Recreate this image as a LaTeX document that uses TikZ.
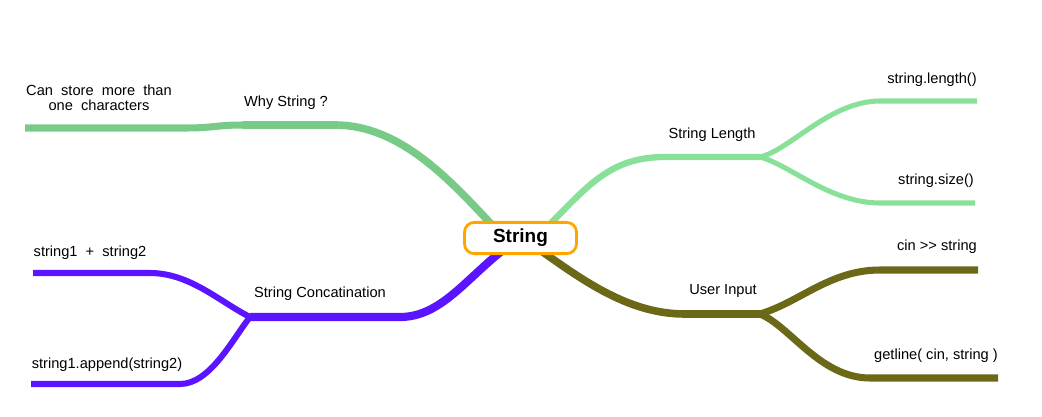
\documentclass[tikz,border=0pt]{standalone}
\usepackage{fontspec}
\setmainfont{Liberation Sans}
\usepackage{tikz}
\usetikzlibrary{positioning}
\definecolor{whygreen}{RGB}{120,203,135}
\definecolor{lengreen}{RGB}{137,224,153}
\definecolor{inolive}{RGB}{107,104,24}
\definecolor{catpurple}{RGB}{91,20,255}
\definecolor{rootorange}{RGB}{255,165,0}

\begin{document}
\begin{tikzpicture}[x=0.025cm,y=-0.025cm,
    branch/.style={line width=5.4pt},
    twig/.style={line width=4.3pt},
    lbl/.style={font=\fontsize{10.4}{11}\selectfont,inner sep=1pt},
    rootbox/.style={draw=rootorange,line width=2pt,fill=white,rounded corners=7pt,
      minimum width=2.8cm,minimum height=0.78cm,font=\fontsize{13.5}{15}\selectfont\bfseries}]
  \useasboundingbox (0,0) rectangle (1042,416);

  % Junctions and ends
  \coordinate (rWhy) at (493,226);
  \coordinate (rLen) at (548,226);
  \coordinate (rIn) at (540,250);
  \coordinate (rCat) at (503,250);
  \coordinate (why) at (243,125);
  \coordinate (whyEnd) at (25,128);
  \coordinate (len) at (760,157);
  \coordinate (lenA) at (977,101);
  \coordinate (lenB) at (975,203);
  \coordinate (in) at (760,314);
  \coordinate (inA) at (978,270);
  \coordinate (inB) at (998,378);
  \coordinate (cat) at (250,317);
  \coordinate (catA) at (33,273);
  \coordinate (catB) at (31,384);

  % Why String
  \draw[branch,whygreen] (rWhy) .. controls (450,180) and (400,125) .. (335,125) -- (why);
  \draw[twig,whygreen,line width=5pt] (why) .. controls (215,125) and (215,128) .. (185,128) -- (whyEnd);
  % String Length
  \draw[branch,lengreen,line width=4.5pt] (rLen) .. controls (588,186) and (610,157) .. (665,157) -- (len);
  \draw[twig,lengreen,line width=3.6pt] (len) .. controls (790,150) and (830,101) .. (880,101) -- (lenA);
  \draw[twig,lengreen,line width=3.6pt] (len) .. controls (790,165) and (830,203) .. (880,203) -- (lenB);
  % User Input
  \draw[branch,inolive] (rIn) .. controls (585,282) and (630,314) .. (685,314) -- (in);
  \draw[twig,inolive,line width=5pt] (in) .. controls (800,302) and (830,270) .. (880,270) -- (inA);
  \draw[twig,inolive,line width=5pt] (in) .. controls (790,326) and (820,378) .. (870,378) -- (inB);
  % String Concatenation
  \draw[branch,catpurple,line width=5.8pt] (rCat) .. controls (465,280) and (440,317) .. (400,317) -- (cat);
  \draw[twig,catpurple] (cat) .. controls (220,302) and (190,273) .. (150,273) -- (catA);
  \draw[twig,catpurple] (cat) .. controls (232,340) and (210,384) .. (180,384) -- (catB);

  % Root
  \node[rootbox] (root) at (520.5,238) {String};

  % Labels
  \node[lbl] (whyLbl) at (286,103) {Why String ?};
  \node[lbl,align=center] (whyLeaf) at (99,98) {Can\ \ store\ \ more\ \ than\\one\ \ characters};
  \node[lbl] (lenLbl) at (712,135) {String Length};
  \node[lbl] (lenALbl) at (932,80) {string.length()};
  \node[lbl] (lenBLbl) at (936,181) {string.size()};
  \node[lbl] (inLbl) at (723,291) {User Input};
  \node[lbl] (inALbl) at (937,247) {cin {>}{>} string};
  \node[lbl] (inBLbl) at (936,356) {getline( cin, string )};
  \node[lbl] (catLbl) at (320,294) {String Concatination};
  \node[lbl] (catALbl) at (90,253) {string1\ \ +\ \ string2};
  \node[lbl] (catBLbl) at (107,365) {string1.append(string2)};
\end{tikzpicture}
\end{document}
